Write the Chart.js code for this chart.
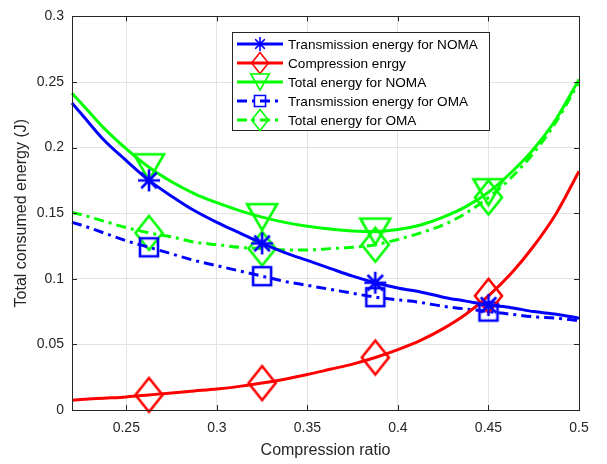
<!DOCTYPE html>
<html>
<head>
<meta charset="utf-8">
<script src="https://cdn.jsdelivr.net/npm/chart.js@4.4.1/dist/chart.umd.min.js"></script>
<style>
  html, body { margin: 0; padding: 0; background: #fff; }
</style>
</head>
<body>
<canvas id="chart" width="607" height="464"></canvas>
<script>
// compression ratio samples
const ratio = [0.22, 0.225, 0.2375, 0.25, 0.2625, 0.275, 0.2875, 0.3, 0.3125, 0.325, 0.3375, 0.35,
               0.3625, 0.375, 0.3875, 0.4, 0.4125, 0.425, 0.4375, 0.45, 0.4625, 0.475, 0.4875, 0.5];
const transNoma = [0.234, 0.226, 0.206, 0.190, 0.175, 0.163, 0.152, 0.143, 0.135, 0.127, 0.120, 0.114,
                   0.108, 0.102, 0.097, 0.093, 0.090, 0.086, 0.083, 0.080, 0.078, 0.075, 0.073, 0.070];
const compression = [0.0075, 0.008, 0.009, 0.010, 0.0115, 0.013, 0.0145, 0.016, 0.018, 0.0205, 0.0235, 0.027,
                     0.031, 0.035, 0.040, 0.046, 0.053, 0.062, 0.073, 0.087, 0.104, 0.125, 0.150, 0.182];
const totalNoma = [0.2415, 0.234, 0.215, 0.199, 0.185, 0.174, 0.165, 0.158, 0.152, 0.147, 0.143, 0.140,
                   0.138, 0.1365, 0.136, 0.1375, 0.141, 0.147, 0.155, 0.166, 0.181, 0.199, 0.222, 0.252];
const transOma = [0.143, 0.141, 0.135, 0.129, 0.124, 0.119, 0.114, 0.110, 0.106, 0.102, 0.098, 0.095,
                  0.092, 0.089, 0.086, 0.084, 0.082, 0.079, 0.077, 0.075, 0.073, 0.071, 0.070, 0.068];
const totalOma = [0.1505, 0.149, 0.144, 0.139, 0.135, 0.132, 0.128, 0.126, 0.124, 0.123, 0.122, 0.122,
                  0.123, 0.124, 0.126, 0.130, 0.135, 0.141, 0.150, 0.162, 0.177, 0.196, 0.220, 0.250];
const markerAt = [0.2625, 0.325, 0.3875, 0.45];
const xTicks = [0.25, 0.3, 0.35, 0.4, 0.45, 0.5];
const yTicks = [0, 0.05, 0.1, 0.15, 0.2, 0.25, 0.3];

const FONT = "'Liberation Sans', Arial, Helvetica, sans-serif";
const AXIS = '#262626';

// matlab-like marker glyphs drawn on small canvases
function marker(kind, color) {
  const lw = 2.6;
  const dims = { diamond: [27, 34], triangle: [30, 26], square: [18, 18], star: [22, 22] }[kind];
  const w = dims[0], h = dims[1];
  const c = document.createElement('canvas');
  c.width = Math.ceil(w + lw * 2);
  c.height = Math.ceil(h + lw * 2);
  const g = c.getContext('2d');
  const cx = c.width / 2, cy = c.height / 2;
  g.strokeStyle = color;
  g.lineWidth = lw;
  g.lineJoin = 'miter';
  g.beginPath();
  if (kind === 'diamond') {
    g.moveTo(cx, cy - h / 2); g.lineTo(cx + w / 2, cy); g.lineTo(cx, cy + h / 2); g.lineTo(cx - w / 2, cy); g.closePath();
  } else if (kind === 'triangle') {
    g.moveTo(cx - w / 2, cy - h / 2); g.lineTo(cx + w / 2, cy - h / 2); g.lineTo(cx, cy + h / 2); g.closePath();
  } else if (kind === 'square') {
    g.rect(cx - w / 2, cy - h / 2, w, h);
  } else {
    const r = w / 2, d = r * 0.7071;
    g.moveTo(cx - r, cy); g.lineTo(cx + r, cy);
    g.moveTo(cx, cy - r); g.lineTo(cx, cy + r);
    g.moveTo(cx - d, cy - d); g.lineTo(cx + d, cy + d);
    g.moveTo(cx - d, cy + d); g.lineTo(cx + d, cy - d);
  }
  g.stroke();
  return c;
}

function series(label, values, color, kind, dash) {
  return {
    label: label,
    data: ratio.map((x, i) => ({ x: x, y: values[i] })),
    borderColor: color,
    borderWidth: 3,
    borderDash: dash,
    pointStyle: marker(kind, color),
    pointRadius: ratio.map(x => markerAt.includes(x) ? 10 : 0),
    pointHoverRadius: 0,
    cubicInterpolationMode: 'monotone',
    clip: false,
    fill: false
  };
}

const DASHDOT = [10, 5, 3, 5];

const datasets = [
  series('Transmission energy for NOMA', transNoma, '#0000ff', 'star', []),
  series('Compression enrgy', compression, '#ff0000', 'diamond', []),
  series('Total energy for NOMA', totalNoma, '#00ff00', 'triangle', []),
  series('Transmission energy for OMA', transOma, '#0000ff', 'square', DASHDOT),
  series('Total energy for OMA', totalOma, '#00ff00', 'diamond', DASHDOT)
];

// box and inward ticks like matlab
const boxPlugin = {
  id: 'box',
  afterDatasetsDraw(chart) {
    const { ctx, chartArea: a, scales } = chart;
    ctx.save();
    ctx.strokeStyle = AXIS;
    ctx.lineWidth = 1;
    ctx.beginPath();
    ctx.rect(Math.round(a.left) + 0.5, Math.round(a.top) + 0.5, Math.round(a.right - a.left), Math.round(a.bottom - a.top));
    xTicks.forEach(v => {
      const px = Math.round(scales.x.getPixelForValue(v)) + 0.5;
      ctx.moveTo(px, a.bottom); ctx.lineTo(px, a.bottom - 5);
      ctx.moveTo(px, a.top); ctx.lineTo(px, a.top + 5);
    });
    yTicks.forEach(v => {
      const py = Math.round(scales.y.getPixelForValue(v)) + 0.5;
      ctx.moveTo(a.left, py); ctx.lineTo(a.left + 5, py);
      ctx.moveTo(a.right, py); ctx.lineTo(a.right - 5, py);
    });
    ctx.stroke();
    ctx.restore();
  }
};

// legend box drawn from the dataset styles
const legendPlugin = {
  id: 'matLegend',
  afterDraw(chart) {
    const ctx = chart.ctx;
    const left = 232.5, top = 32.5, w = 257, h = 98;
    ctx.save();
    ctx.fillStyle = '#fff';
    ctx.fillRect(left, top, w, h);
    ctx.strokeStyle = AXIS;
    ctx.lineWidth = 1;
    ctx.strokeRect(left, top, w, h);
    ctx.font = '13.6px ' + FONT;
    ctx.textBaseline = 'middle';
    chart.data.datasets.forEach((ds, i) => {
      const y = 44 + i * 19;
      ctx.strokeStyle = ds.borderColor;
      ctx.lineWidth = 3;
      ctx.setLineDash(ds.borderDash);
      ctx.beginPath();
      ctx.moveTo(237, y); ctx.lineTo(283, y);
      ctx.stroke();
      ctx.setLineDash([]);
      const img = ds.pointStyle;
      const s = 0.62;
      ctx.drawImage(img, 260 - img.width * s / 2, y - img.height * s / 2, img.width * s, img.height * s);
      ctx.fillStyle = '#000';
      ctx.fillText(ds.label, 288, y + 1);
    });
    ctx.restore();
  }
};

new Chart(document.getElementById('chart'), {
  type: 'line',
  data: { datasets: datasets },
  options: {
    responsive: false,
    animation: false,
    layout: { padding: { top: 10, right: 28, left: 0, bottom: 0 } },
    plugins: { legend: { display: false }, tooltip: { enabled: false } },
    scales: {
      x: {
        type: 'linear',
        min: 0.22,
        max: 0.5,
        afterBuildTicks: s => { s.ticks = xTicks.map(v => ({ value: v })); },
        afterFit: s => { s.height = 54; },
        grid: { color: '#e3e3e3', drawTicks: false },
        border: { color: AXIS },
        ticks: { padding: 10, autoSkip: false, maxRotation: 0, color: AXIS,
                 font: { size: 14, family: FONT }, callback: v => String(v) },
        title: { display: true, text: 'Compression ratio', color: AXIS,
                 font: { size: 16, family: FONT }, padding: { top: 0, bottom: 4 } }
      },
      y: {
        min: 0,
        max: 0.3,
        afterBuildTicks: s => { s.ticks = yTicks.map(v => ({ value: v })); },
        afterFit: s => { s.width = 72; },
        grid: { color: '#e3e3e3', drawTicks: false },
        border: { color: AXIS },
        ticks: { padding: 8, color: AXIS, font: { size: 14, family: FONT }, callback: v => String(v) },
        title: { display: true, text: 'Total consumed energy (J)', color: AXIS,
                 font: { size: 16, family: FONT }, padding: { top: 12, bottom: 0 } }
      }
    }
  },
  plugins: [boxPlugin, legendPlugin]
});
</script>
</body>
</html>
